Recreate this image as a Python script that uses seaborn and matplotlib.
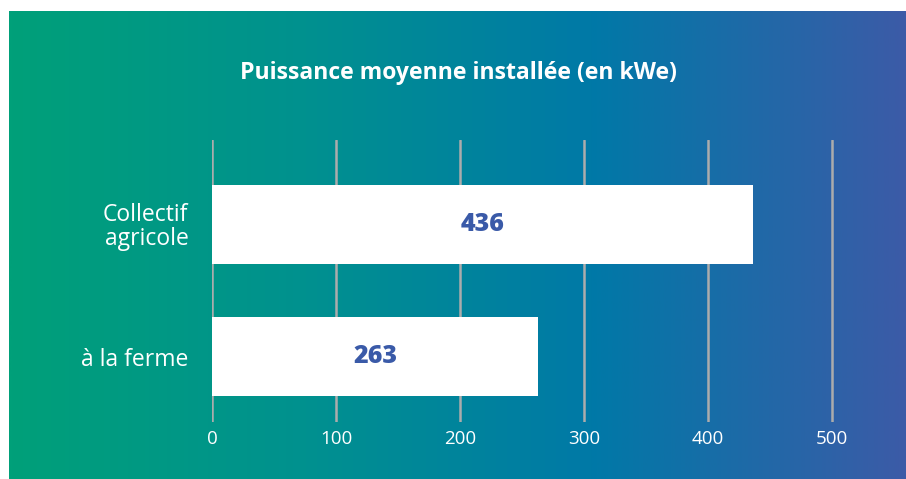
import matplotlib
matplotlib.use("Agg")
import matplotlib.pyplot as plt
import numpy as np
import pandas as pd
import seaborn as sns
from matplotlib.colors import LinearSegmentedColormap

categories = ["Collectif\nagricole", "à la ferme"]
values = [436, 263]
xticks = [0, 100, 200, 300, 400, 500]
title = "Puissance moyenne installée (en kWe)"

sns.set_theme(style="white")
plt.rcParams["font.family"] = ["Open Sans", "DejaVu Sans"]

W, H = 906, 479
fig = plt.figure(figsize=(W / 100, H / 100), dpi=100)
fig.patch.set_facecolor("white")

# gradient background panel
bg = fig.add_axes([9 / W, 0, (W - 9) / W, (H - 11) / H], zorder=0)
cmap = LinearSegmentedColormap.from_list(
    "grad", [(0, "#00a079"), (0.33, "#00918f"), (0.65, "#0079a7"), (1, "#3c5ba7")])
bg.imshow(np.linspace(0, 1, 512)[None, :], aspect="auto", cmap=cmap,
          extent=[0, 1, 0, 1])
bg.set_axis_off()

xmax = 555
left, right_px = 212, 212 + 620 / 500 * xmax
top, bottom = 140, 422
ax = fig.add_axes([left / W, 1 - bottom / H, (right_px - left) / W, (bottom - top) / H], zorder=1)
ax.patch.set_alpha(0)

df = pd.DataFrame({"cat": categories, "val": values})
sns.barplot(data=df, x="val", y="cat", orient="h", color="white", width=0.6,
            saturation=1, ax=ax, zorder=3)
for p in ax.patches:
    p.set_edgecolor("none")

ax.set_xlim(0, xmax)
ax.set_ylim(1.496, -0.64)
ax.set_xticks(xticks)
ax.set_xticklabels([str(t) for t in xticks], color="white", fontsize=13.5)
ax.tick_params(axis="x", length=0, pad=6)
ax.tick_params(axis="y", length=0, pad=17, labelsize=16.5, labelcolor="white")
for lab in ax.get_yticklabels():
    lab.set_multialignment("right")
    lab.set_linespacing(1.0)
ax.set_xlabel("")
ax.set_ylabel("")
for s in ax.spines.values():
    s.set_visible(False)
for t in xticks:
    ax.axvline(t, color="#acacac", lw=1.8, zorder=1)

for i, v in enumerate(values):
    ax.text(v / 2, i, str(v), ha="center", va="center", color="#3a5aa8",
            fontsize=18, fontweight="heavy", zorder=4)

fig.text(458 / W, 1 - 73 / H, title, ha="center", va="center", color="white",
         fontsize=16.6, fontweight="bold")

fig.savefig("out.png", dpi=100)
